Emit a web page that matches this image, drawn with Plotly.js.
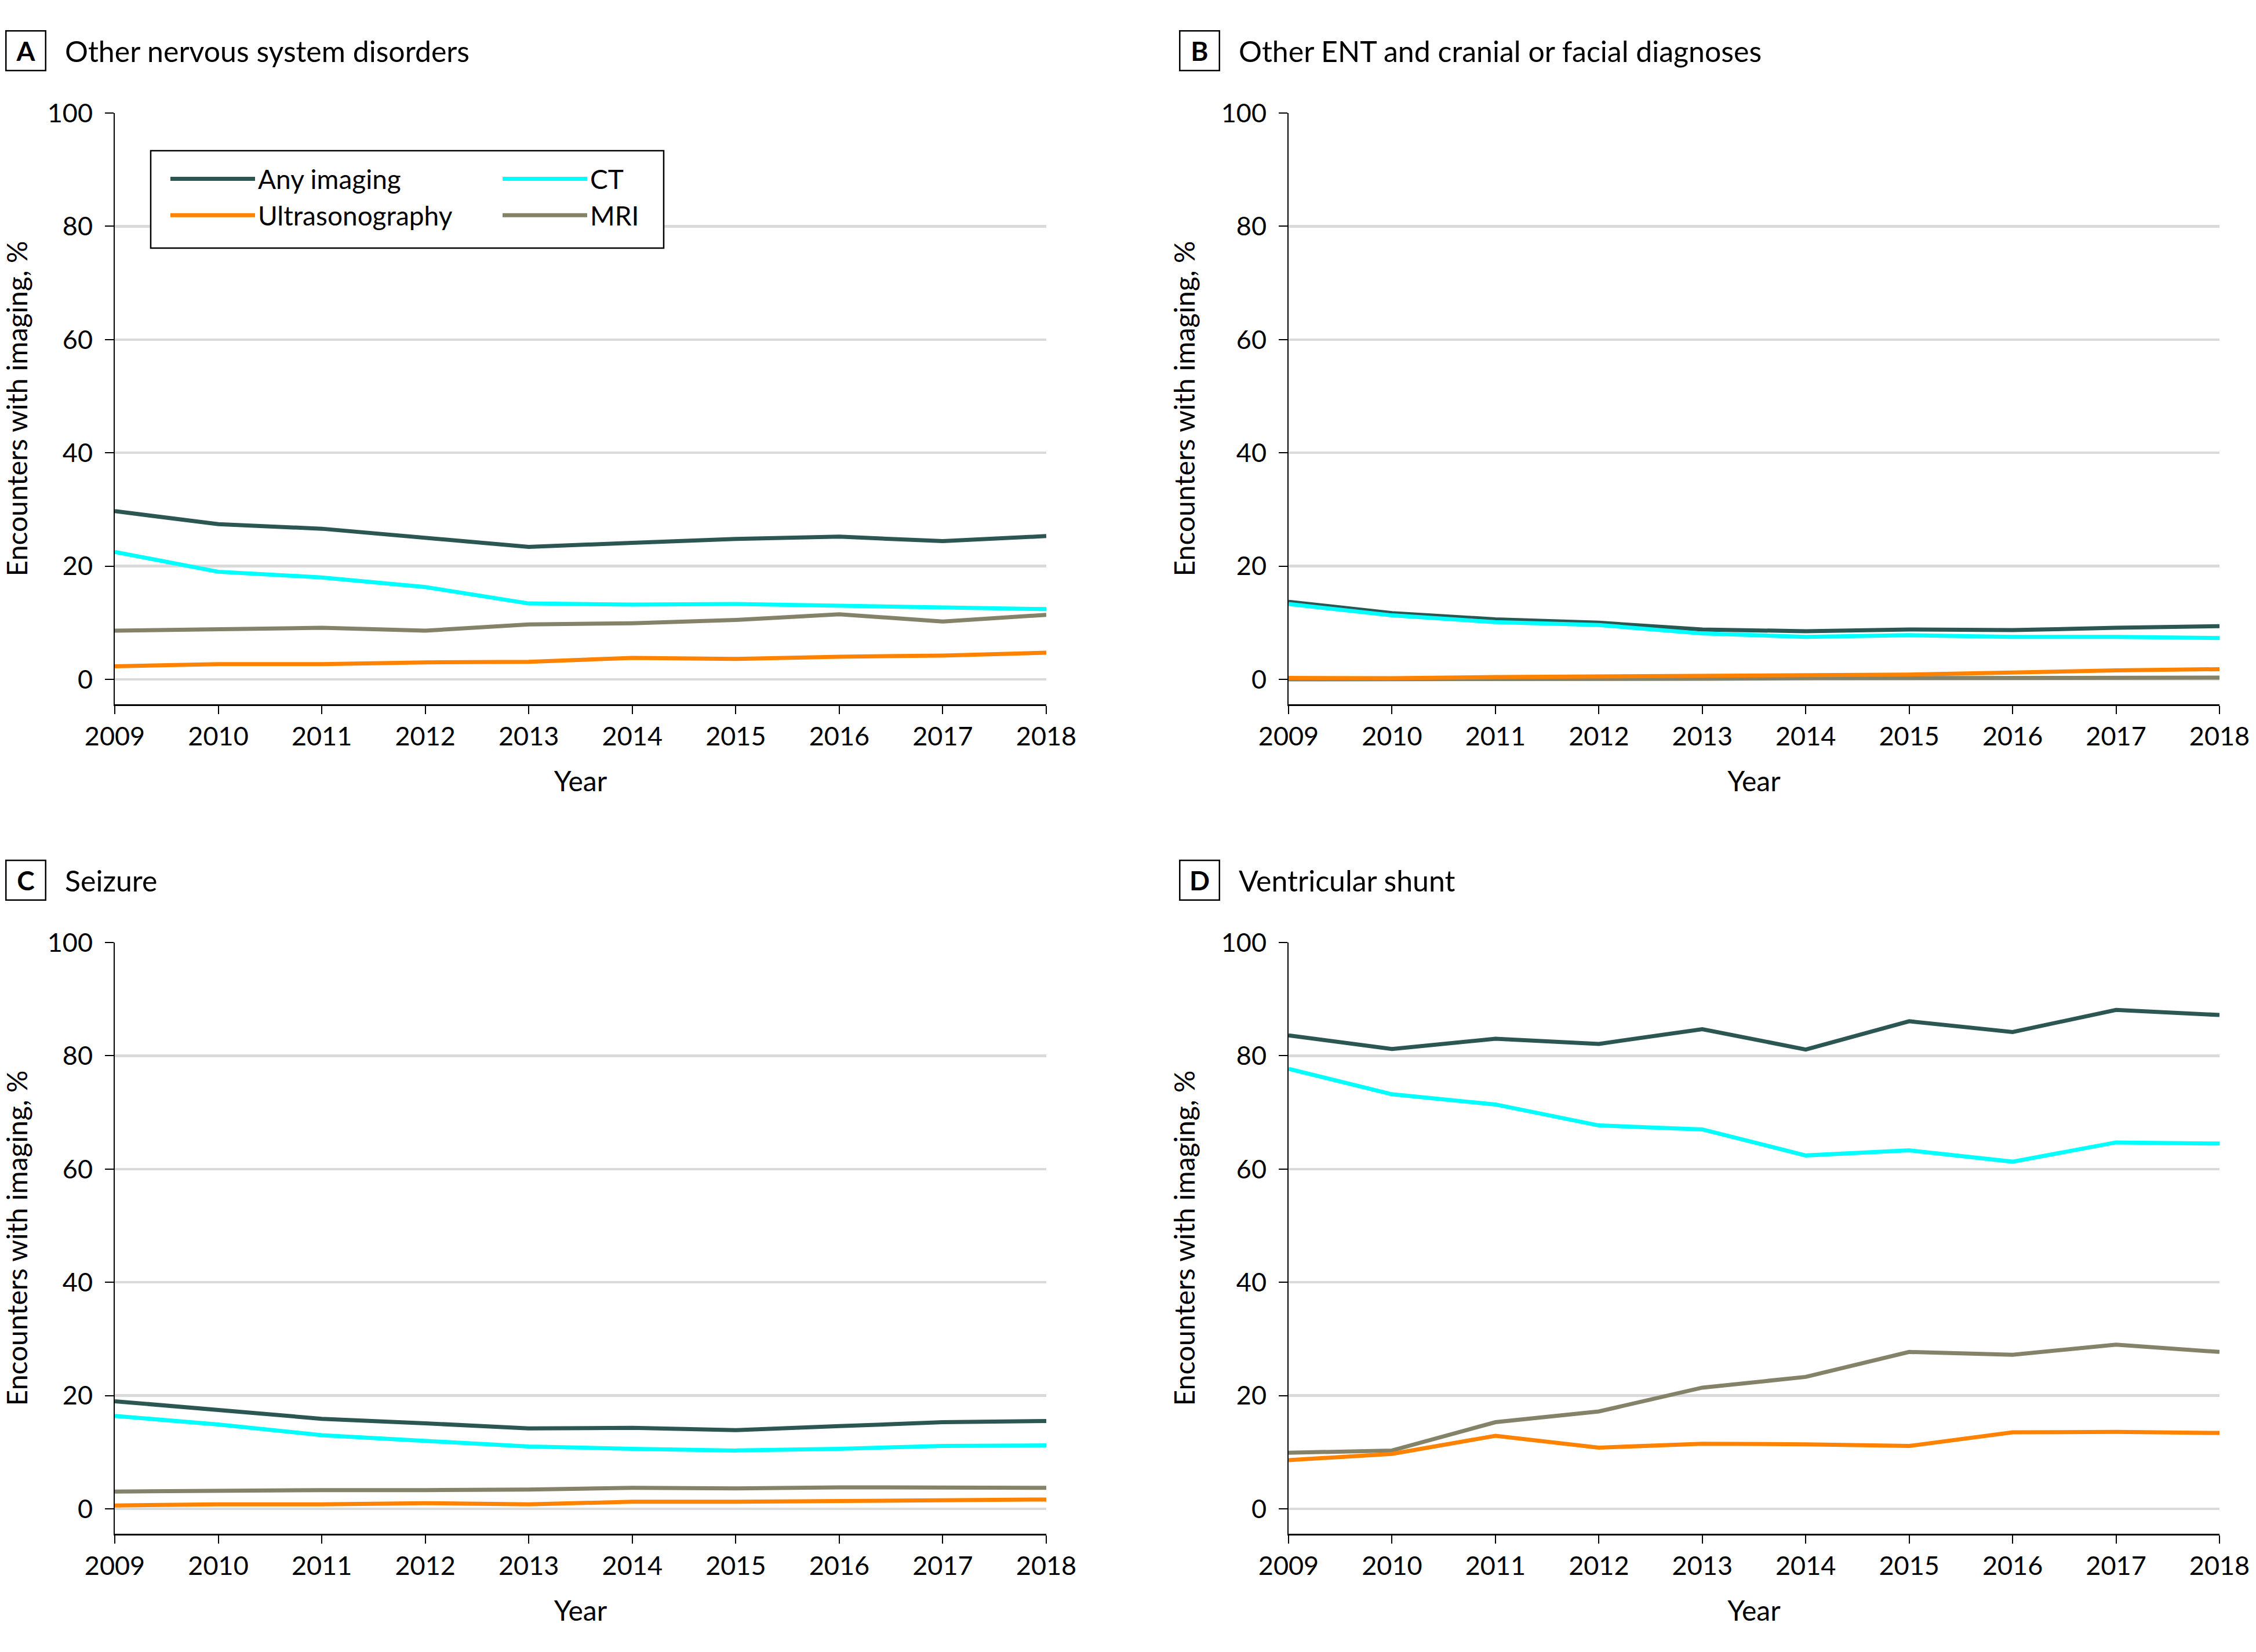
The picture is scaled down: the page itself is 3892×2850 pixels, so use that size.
<!DOCTYPE html>
<html><head><meta charset="utf-8">
<script src="https://cdn.plot.ly/plotly-3.0.1.min.js"></script>
<style>html,body{margin:0;padding:0;background:#fff}</style>
</head><body><div id="chart" style="width:3892px;height:2850px"></div>
<script>
// ---- data ----
const years = [2009, 2010, 2011, 2012, 2013, 2014, 2015, 2016, 2017, 2018];
const seriesNames = ["Any imaging", "CT", "MRI", "Ultrasonography"];
const panelLetters = ["A", "B", "C", "D"];
const panelTitles = ["Other nervous system disorders", "Other ENT and cranial or facial diagnoses", "Seizure", "Ventricular shunt"];
const yTicks = [0, 20, 40, 60, 80, 100];

const nervousAny = [29.7, 27.4, 26.6, 25.0, 23.4, 24.1, 24.8, 25.2, 24.4, 25.3];
const nervousCT  = [22.5, 19.0, 18.0, 16.3, 13.4, 13.2, 13.3, 13.0, 12.8, 12.4];
const nervousMRI = [8.6, 8.9, 9.1, 8.6, 9.7, 9.9, 10.5, 11.5, 10.2, 11.4];
const nervousUS  = [2.3, 2.7, 2.7, 3.0, 3.1, 3.8, 3.6, 4.0, 4.2, 4.7];

const entAny = [13.7, 11.7, 10.6, 10.0, 8.8, 8.5, 8.8, 8.7, 9.1, 9.4];
const entCT  = [13.3, 11.3, 10.1, 9.6, 8.1, 7.5, 7.8, 7.5, 7.5, 7.3];
const entMRI = [0.0, 0.0, 0.05, 0.05, 0.1, 0.2, 0.2, 0.2, 0.2, 0.3];
const entUS  = [0.25, 0.2, 0.4, 0.5, 0.6, 0.85, 0.85, 1.2, 1.6, 1.8];

const seizureAny = [19.0, 17.5, 15.9, 15.1, 14.2, 14.3, 13.9, 14.6, 15.3, 15.5];
const seizureCT  = [16.4, 14.9, 13.0, 12.0, 11.0, 10.6, 10.3, 10.6, 11.1, 11.2];
const seizureMRI = [3.05, 3.2, 3.3, 3.3, 3.4, 3.7, 3.6, 3.8, 3.8, 3.7];
const seizureUS  = [0.6, 0.8, 0.8, 1.0, 0.8, 1.25, 1.25, 1.4, 1.5, 1.65];

const shuntAny = [83.6, 81.2, 83.0, 82.1, 84.7, 81.1, 86.1, 84.2, 88.1, 87.2];
const shuntCT  = [77.7, 73.2, 71.4, 67.7, 67.0, 62.4, 63.3, 61.3, 64.7, 64.5];
const shuntMRI = [9.9, 10.3, 15.3, 17.2, 21.4, 23.3, 27.7, 27.2, 29.0, 27.7];
const shuntUS  = [8.6, 9.7, 12.9, 10.8, 11.5, 11.4, 11.1, 13.5, 13.6, 13.4];

// ---- styling ----
const W = 3892, H = 2850;
const FONT = "Lato, 'Noto Sans', sans-serif";
const colors = {"Any imaging": "#2b5652", "CT": "#00ffff", "MRI": "#848269", "Ultrasonography": "#ff8200"};
const groups = {"Any imaging": "g1", "Ultrasonography": "g1", "CT": "g2", "MRI": "g2"};

const panelData = [
  [nervousAny, nervousCT, nervousMRI, nervousUS],
  [entAny, entCT, entMRI, entUS],
  [seizureAny, seizureCT, seizureMRI, seizureUS],
  [shuntAny, shuntCT, shuntMRI, shuntUS]
];

// pixel geometry of each panel: [left, right, top, bottom]
const geom = [
  [198, 1805, 195, 1215],
  [2223, 3829, 195, 1215],
  [198, 1805, 1626, 2646],
  [2223, 3829, 1626, 2646]
];

const traces = [];
panelData.forEach((arrs, p) => {
  const sfx = p === 0 ? "" : String(p + 1);
  arrs.forEach((vals, s) => {
    const name = seriesNames[s];
    traces.push({
      type: "scatter", mode: "lines", x: years, y: vals, name: name,
      xaxis: "x" + sfx, yaxis: "y" + sfx,
      line: {color: colors[name], width: 7},
      legendgroup: groups[name], showlegend: p === 0,
      hoverinfo: "x+y+name"
    });
  });
});

const layout = {
  width: W, height: H,
  margin: {l: 0, r: 0, t: 0, b: 0},
  paper_bgcolor: "#ffffff", plot_bgcolor: "#ffffff",
  font: {family: FONT, color: "#000", size: 45},
  showlegend: true,
  legend: {
    x: 289 / W, y: 1 - 272 / H, xanchor: "left", yanchor: "top",
    orientation: "h", traceorder: "grouped",
    bordercolor: "rgba(0,0,0,0)", borderwidth: 0, bgcolor: "rgba(0,0,0,0)",
    font: {family: FONT, size: 46, color: "#000"},
    itemwidth: 146, entrywidth: 412, tracegroupgap: 0
  },
  annotations: [],
  shapes: [{
    type: "rect", xref: "paper", yref: "paper", layer: "above",
    x0: 260 / W, x1: 1145 / W, y0: 1 - 260 / H, y1: 1 - 428 / H,
    line: {color: "#000", width: 2.5}, fillcolor: "#fff"
  }]
};

geom.forEach((g, p) => {
  const sfx = p === 0 ? "" : String(p + 1);
  layout["xaxis" + sfx] = {
    domain: [g[0] / W, g[1] / W], anchor: "y" + sfx,
    range: [2009, 2018], tickvals: years, ticktext: years.map(String),
    ticks: "outside", ticklen: 14, tickwidth: 2, tickcolor: "#000",
    showline: true, linecolor: "#000", linewidth: 2.5,
    showgrid: false, zeroline: false,
    tickfont: {family: FONT, size: 45, color: "#000"},
    ticklabelstandoff: 0,
    title: {text: "Year", font: {family: FONT, size: 48, color: "#000"}, standoff: 37}
  };
  layout["yaxis" + sfx] = {
    domain: [1 - g[3] / H, 1 - g[2] / H], anchor: "x" + sfx,
    range: [-4.4, 100], tickvals: yTicks,
    ticks: "outside", ticklen: 15, tickwidth: 2, tickcolor: "#000",
    showline: true, linecolor: "#000", linewidth: 2,
    showgrid: true, gridcolor: "#dadada", gridwidth: 4.5, zeroline: false,
    tickfont: {family: FONT, size: 45, color: "#000"},
    ticklabelstandoff: 12,
    title: {text: "Encounters with imaging, %", font: {family: FONT, size: 48, color: "#000"}, standoff: 30}
  };
  // panel letter box + title
  const boxCx = g[0] - 153.5, boxCy = g[2] - 107.5;
  layout.annotations.push({
    xref: "paper", yref: "paper", x: boxCx / W, y: 1 - boxCy / H,
    xanchor: "center", yanchor: "middle", showarrow: false,
    text: "<b>" + panelLetters[p] + "</b>",
    font: {family: FONT, size: 46, color: "#000"},
    width: 66, height: 66, borderpad: 0,
    bordercolor: "#000", borderwidth: 2.5, bgcolor: "#fff"
  });
  layout.annotations.push({
    xref: "paper", yref: "paper", x: (g[0] - 88) / W, y: 1 - (g[2] - 107) / H,
    xanchor: "left", yanchor: "middle", showarrow: false,
    text: panelTitles[p],
    font: {family: FONT, size: 50, color: "#000"}
  });
});

Plotly.newPlot("chart", traces, layout, {displayModeBar: false, staticPlot: true});
</script>
</body></html>
